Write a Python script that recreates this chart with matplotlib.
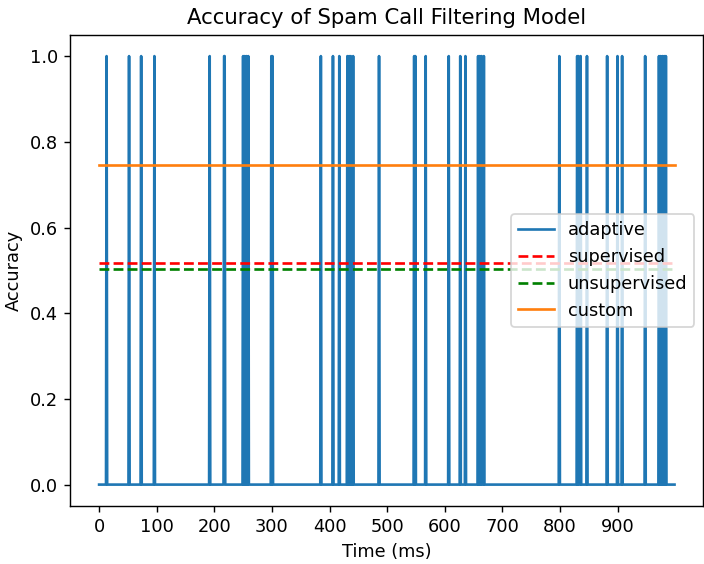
import numpy as np
import matplotlib
matplotlib.use("Agg")
import matplotlib.pyplot as plt

# time steps (ms) and where the adaptive model was correct
n_steps = 1000
adaptive_hits = [13, 52, 73, 96, 192, 217, 218, 250, 253, 256, 259, 299, 301,
                 385, 406, 417, 431, 434, 437, 441, 486, 547, 549, 567, 607,
                 627, 636, 658, 661, 664, 668, 799, 830, 832, 836, 847, 882,
                 900, 908, 948, 972, 975, 978, 981, 984]

# mean accuracies of the other models
supervised_acc = 0.517
unsupervised_acc = 0.502
custom_acc = 0.745

time = np.arange(n_steps)
adaptive = np.zeros(n_steps)
adaptive[adaptive_hits] = 1

DPI = 127.5
fig = plt.figure(figsize=(704 / DPI, 564 / DPI), dpi=DPI)
fig.subplots_adjust(left=0.0999, right=0.999, bottom=0.1028, top=0.9385)

plt.plot(time, adaptive, label="adaptive")
plt.plot(time, np.full(n_steps, supervised_acc), "r--", label="supervised")
plt.plot(time, np.full(n_steps, unsupervised_acc), "g--", label="unsupervised")
plt.plot(time, np.full(n_steps, custom_acc), color="C1", label="custom")

plt.title("Accuracy of Spam Call Filtering Model")
plt.xlabel("Time (ms)")
plt.ylabel("Accuracy")
plt.xticks(range(0, 1000, 100))
plt.legend(loc="center right")

plt.savefig("out.png", dpi=DPI)
plt.close()
